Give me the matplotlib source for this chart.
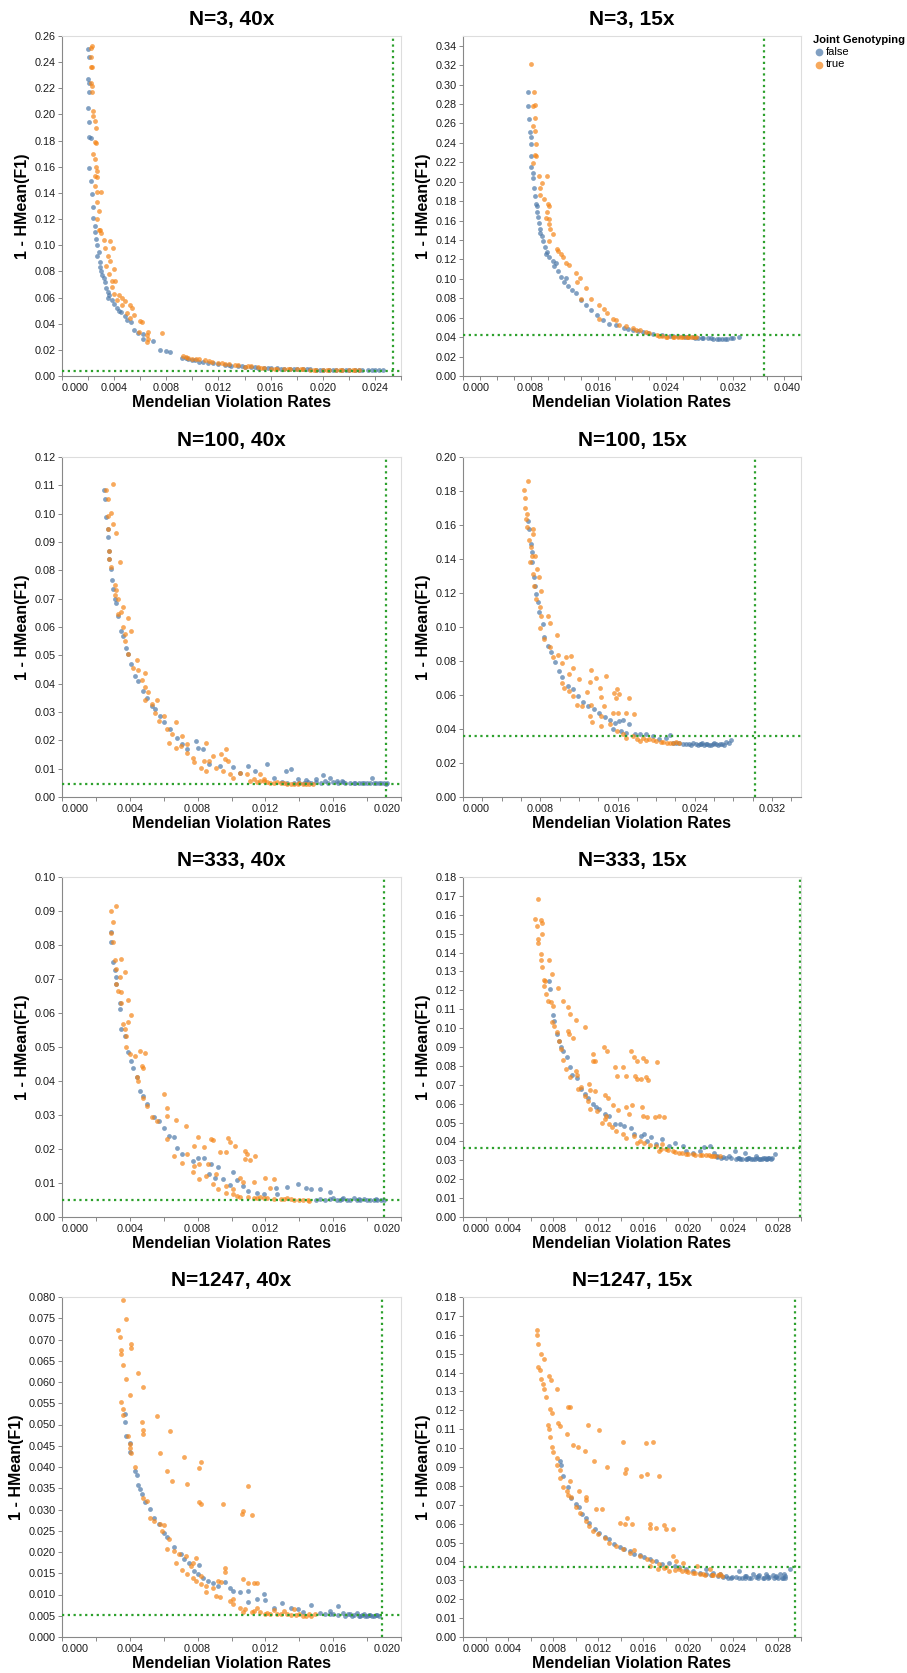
import numpy as np
import matplotlib
matplotlib.use("Agg")
import matplotlib.pyplot as plt

plt.rcParams['font.family'] = ['Liberation Sans', 'DejaVu Sans']

BLUE = '#4c78a8'
ORANGE = '#f58518'

# ---- panel settings ----
titles = ["N=3, 40x", "N=3, 15x", "N=100, 40x", "N=100, 15x",
          "N=333, 40x", "N=333, 15x", "N=1247, 40x", "N=1247, 15x"]
x_max = [0.026, 0.040, 0.020, 0.035, 0.020, 0.030, 0.020, 0.030]
x_label_step = [0.004, 0.008, 0.004, 0.008, 0.004, 0.004, 0.004, 0.004]
y_max = [0.26, 0.35, 0.12, 0.20, 0.10, 0.18, 0.080, 0.18]
y_step = [0.02, 0.02, 0.01, 0.02, 0.01, 0.01, 0.005, 0.01]
y_fmt = ['{:.2f}'] * 6 + ['{:.3f}', '{:.2f}']
vline_x = [0.0254, 0.0356, 0.0191, 0.0302, 0.0190, 0.0299, 0.0189, 0.0295]
hline_y = [0.0038, 0.0423, 0.0047, 0.0358, 0.0049, 0.0364, 0.0051, 0.0371]

# ---- data: (Mendelian violation rate, 1 - HMean(F1)) ----
n3_40x_false = [
    (0.0020, 0.250), (0.0021, 0.244), (0.0020, 0.227), (0.0021, 0.224), (0.0021, 0.217),
    (0.0020, 0.205), (0.0021, 0.194), (0.0021, 0.183), (0.0022, 0.182), (0.0021, 0.159),
    (0.0022, 0.149), (0.0023, 0.139), (0.0024, 0.129), (0.0024, 0.121), (0.0025, 0.115),
    (0.0025, 0.110), (0.0026, 0.105), (0.0027, 0.100), (0.0028, 0.095), (0.0027, 0.092),
    (0.0029, 0.087), (0.0029, 0.083), (0.0030, 0.080), (0.0031, 0.077), (0.0032, 0.075),
    (0.0033, 0.072), (0.0034, 0.067), (0.0035, 0.064), (0.0036, 0.062), (0.0035, 0.060),
    (0.0038, 0.058), (0.0040, 0.055), (0.0042, 0.052), (0.0044, 0.050), (0.0045, 0.049),
    (0.0048, 0.046), (0.0050, 0.043), (0.0053, 0.041), (0.0055, 0.035), (0.0058, 0.033),
    (0.0062, 0.032), (0.0062, 0.028), (0.0070, 0.027), (0.0075, 0.020), (0.0080, 0.019),
    (0.0083, 0.018), (0.0092, 0.014), (0.0097, 0.013), (0.0102, 0.012), (0.0105, 0.011),
    (0.0112, 0.010), (0.0120, 0.009), (0.0125, 0.0085), (0.0130, 0.008), (0.0135, 0.0076),
    (0.0140, 0.0072), (0.0145, 0.0068), (0.0150, 0.0065), (0.0155, 0.0062), (0.0160, 0.0060),
    (0.0165, 0.0058), (0.0170, 0.0056), (0.0175, 0.0054), (0.0180, 0.0052), (0.0185, 0.0051),
    (0.0190, 0.0050), (0.0195, 0.0049), (0.0200, 0.0048), (0.0205, 0.0048), (0.0210, 0.0047),
    (0.0215, 0.0047), (0.0220, 0.0046), (0.0225, 0.0046), (0.0230, 0.0046), (0.0235, 0.0046),
    (0.0240, 0.0046), (0.0246, 0.0046), (0.0095, 0.0135), (0.0100, 0.0125), (0.0108, 0.0108),
    (0.0116, 0.0098), (0.0128, 0.0082), (0.0138, 0.0074), (0.0148, 0.0066), (0.0158, 0.0061),
    (0.0168, 0.0057), (0.0178, 0.0053), (0.0188, 0.0050), (0.0198, 0.0049), (0.0208, 0.0047),
    (0.0218, 0.0046), (0.0228, 0.0046), (0.0238, 0.0046), (0.0243, 0.0045)]
n3_40x_true = [
    (0.0022, 0.251), (0.0023, 0.252), (0.0022, 0.244), (0.0022, 0.236), (0.0023, 0.236),
    (0.0022, 0.224), (0.0023, 0.222), (0.0023, 0.217), (0.0024, 0.203), (0.0024, 0.199),
    (0.0025, 0.195), (0.0026, 0.190), (0.0025, 0.179), (0.0026, 0.178), (0.0024, 0.170),
    (0.0025, 0.166), (0.0026, 0.160), (0.0027, 0.157), (0.0025, 0.153), (0.0027, 0.152),
    (0.0025, 0.145), (0.0027, 0.141), (0.0030, 0.141), (0.0027, 0.133), (0.0028, 0.126),
    (0.0027, 0.120), (0.0028, 0.112), (0.0029, 0.112), (0.0030, 0.109), (0.0032, 0.104),
    (0.0037, 0.103), (0.0033, 0.098), (0.0039, 0.098), (0.0035, 0.092), (0.0037, 0.088),
    (0.0034, 0.084), (0.0040, 0.082), (0.0036, 0.078), (0.0038, 0.073), (0.0041, 0.073),
    (0.0038, 0.068), (0.0040, 0.063), (0.0044, 0.062), (0.0046, 0.060), (0.0042, 0.058),
    (0.0048, 0.057), (0.0046, 0.054), (0.0052, 0.054), (0.0054, 0.052), (0.0050, 0.048),
    (0.0055, 0.047), (0.0052, 0.044), (0.0060, 0.042), (0.0061, 0.041), (0.0059, 0.034),
    (0.0066, 0.034), (0.0065, 0.031), (0.0077, 0.033), (0.0066, 0.028), (0.0065, 0.026),
    (0.0093, 0.015), (0.0097, 0.014), (0.0100, 0.013), (0.0105, 0.013), (0.0110, 0.012),
    (0.0115, 0.011), (0.0120, 0.010), (0.0125, 0.009), (0.0128, 0.0095), (0.0135, 0.0085),
    (0.0140, 0.0070), (0.0145, 0.0078), (0.0150, 0.0068), (0.0155, 0.0060), (0.0160, 0.0057),
    (0.0165, 0.0055), (0.0170, 0.0053), (0.0175, 0.0052), (0.0180, 0.0050), (0.0185, 0.0050),
    (0.0190, 0.0048), (0.0195, 0.0048), (0.0200, 0.0047), (0.0205, 0.0046), (0.0210, 0.0046),
    (0.0215, 0.0045), (0.0220, 0.0045), (0.0225, 0.0045), (0.0228, 0.0045), (0.0095, 0.0142),
    (0.0103, 0.0128), (0.0113, 0.0112), (0.0123, 0.0096), (0.0133, 0.0087), (0.0143, 0.0074),
    (0.0153, 0.0063), (0.0163, 0.0056), (0.0173, 0.0052), (0.0183, 0.0050), (0.0193, 0.0048),
    (0.0203, 0.0046), (0.0213, 0.0045), (0.0223, 0.0045)]

n3_15x_false = [
    (0.0077, 0.292), (0.0077, 0.278), (0.0078, 0.265), (0.0079, 0.251), (0.0081, 0.246),
    (0.0080, 0.239), (0.0081, 0.226), (0.0081, 0.215), (0.0083, 0.209), (0.0083, 0.204),
    (0.0084, 0.194), (0.0085, 0.185), (0.0086, 0.177), (0.0088, 0.175), (0.0087, 0.169),
    (0.0089, 0.164), (0.0090, 0.158), (0.0091, 0.151), (0.0091, 0.147), (0.0093, 0.144),
    (0.0095, 0.139), (0.0097, 0.133), (0.0098, 0.126), (0.0099, 0.128), (0.0102, 0.123),
    (0.0106, 0.118), (0.0110, 0.116), (0.0108, 0.113), (0.0112, 0.108), (0.0116, 0.102),
    (0.0122, 0.101), (0.0120, 0.097), (0.0124, 0.093), (0.0129, 0.089), (0.0134, 0.085),
    (0.0140, 0.078), (0.0146, 0.073), (0.0152, 0.068), (0.0158, 0.063), (0.0166, 0.058),
    (0.0173, 0.054), (0.0181, 0.052), (0.0191, 0.049), (0.0201, 0.047), (0.0213, 0.045),
    (0.0225, 0.043), (0.0236, 0.042), (0.0248, 0.041), (0.0260, 0.041), (0.0272, 0.040),
    (0.0284, 0.039), (0.0296, 0.0385), (0.0307, 0.038), (0.0317, 0.039), (0.0327, 0.040),
    (0.0290, 0.039), (0.0300, 0.0385), (0.0312, 0.0385), (0.0278, 0.0395), (0.0266, 0.0405),
    (0.0245, 0.0412), (0.0255, 0.0408), (0.0263, 0.0402), (0.0275, 0.0396), (0.0283, 0.0392),
    (0.0293, 0.0388), (0.0303, 0.0384), (0.0310, 0.0383), (0.0320, 0.0387), (0.0219, 0.0440),
    (0.0207, 0.0460), (0.0195, 0.0480)]
n3_15x_true = [
    (0.0080, 0.321), (0.0084, 0.292), (0.0083, 0.278), (0.0085, 0.279), (0.0085, 0.266),
    (0.0083, 0.257), (0.0085, 0.252), (0.0086, 0.239), (0.0085, 0.228), (0.0086, 0.226),
    (0.0083, 0.219), (0.0090, 0.206), (0.0099, 0.206), (0.0093, 0.199), (0.0091, 0.194),
    (0.0091, 0.186), (0.0096, 0.182), (0.0100, 0.177), (0.0102, 0.175), (0.0099, 0.169),
    (0.0098, 0.163), (0.0102, 0.162), (0.0102, 0.156), (0.0103, 0.151), (0.0106, 0.146),
    (0.0102, 0.139), (0.0111, 0.131), (0.0113, 0.129), (0.0116, 0.126), (0.0118, 0.123),
    (0.0122, 0.116), (0.0126, 0.114), (0.0134, 0.106), (0.0138, 0.101), (0.0135, 0.097),
    (0.0146, 0.091), (0.0140, 0.079), (0.0152, 0.079), (0.0161, 0.073), (0.0167, 0.069),
    (0.0171, 0.065), (0.0161, 0.059), (0.0177, 0.059), (0.0181, 0.058), (0.0185, 0.053),
    (0.0193, 0.051), (0.0201, 0.049), (0.0209, 0.047), (0.0217, 0.045), (0.0229, 0.042),
    (0.0236, 0.041), (0.0248, 0.040), (0.0260, 0.040), (0.0270, 0.040), (0.0276, 0.040),
    (0.0242, 0.0405), (0.0254, 0.0400), (0.0265, 0.0398), (0.0232, 0.0412), (0.0240, 0.0405),
    (0.0250, 0.0402), (0.0258, 0.0400), (0.0266, 0.0401), (0.0273, 0.0399), (0.0220, 0.0440),
    (0.0205, 0.0470)]

n100_40x_false = [
    (0.0025, 0.1085), (0.00255, 0.1053), (0.0026, 0.0990), (0.0027, 0.0947), (0.0027, 0.0917),
    (0.0028, 0.0870), (0.0028, 0.0841), (0.0029, 0.0805), (0.00295, 0.0767), (0.0030, 0.0734),
    (0.0031, 0.0699), (0.0032, 0.0684), (0.0033, 0.0640), (0.0035, 0.0587), (0.0036, 0.0569),
    (0.0038, 0.0526), (0.0039, 0.0505), (0.0041, 0.0469), (0.0043, 0.0428), (0.0045, 0.0410),
    (0.0048, 0.0375), (0.0050, 0.0351), (0.0053, 0.0322), (0.0055, 0.0310), (0.0058, 0.0286),
    (0.0060, 0.0263), (0.0064, 0.0240), (0.0068, 0.0210), (0.0071, 0.0186), (0.0074, 0.0169),
    (0.0079, 0.0198), (0.0080, 0.0174), (0.0083, 0.0169), (0.0087, 0.0116), (0.0093, 0.0110),
    (0.0101, 0.0106), (0.0105, 0.0086), (0.0110, 0.0110), (0.0114, 0.0092), (0.0121, 0.0116),
    (0.0125, 0.0068), (0.0132, 0.0092), (0.0135, 0.0098), (0.0139, 0.0062), (0.0144, 0.0059),
    (0.0150, 0.0062), (0.0154, 0.0078), (0.0158, 0.0068), (0.0162, 0.0057), (0.0166, 0.0054),
    (0.0172, 0.0051), (0.0178, 0.0050), (0.0183, 0.0066), (0.0184, 0.0050), (0.0190, 0.0048),
    (0.0192, 0.0048), (0.0130, 0.0052), (0.0140, 0.0051), (0.0150, 0.0052), (0.0160, 0.0052),
    (0.0170, 0.0050), (0.0175, 0.0049), (0.0180, 0.0049), (0.0185, 0.0048), (0.0188, 0.0048),
    (0.0133, 0.0050), (0.0137, 0.0049), (0.0143, 0.0050), (0.0147, 0.0049), (0.0153, 0.0050),
    (0.0157, 0.0049), (0.0163, 0.0050), (0.0167, 0.0049), (0.0173, 0.0049), (0.0177, 0.0048),
    (0.0182, 0.0048), (0.0187, 0.0048), (0.0191, 0.0047), (0.0155, 0.0055), (0.0165, 0.0055),
    (0.0145, 0.0054)]
n100_40x_true = [
    (0.0030, 0.1103), (0.0026, 0.1085), (0.0027, 0.1053), (0.0029, 0.1003), (0.0027, 0.0991),
    (0.0030, 0.0962), (0.0032, 0.0931), (0.0027, 0.0947), (0.0028, 0.0870), (0.0028, 0.0841),
    (0.0034, 0.0829), (0.0029, 0.0811), (0.0031, 0.0750), (0.0032, 0.0731), (0.0031, 0.0714),
    (0.0033, 0.0699), (0.0036, 0.0670), (0.0035, 0.0652), (0.0033, 0.0646), (0.0039, 0.0632),
    (0.0036, 0.0599), (0.0041, 0.0587), (0.0037, 0.0575), (0.0037, 0.0552), (0.0039, 0.0505),
    (0.0044, 0.0483), (0.0042, 0.0457), (0.0045, 0.0448), (0.0049, 0.0436), (0.0047, 0.0413),
    (0.0049, 0.0387), (0.0051, 0.0369), (0.0049, 0.0342), (0.0056, 0.0342), (0.0053, 0.0328),
    (0.0055, 0.0298), (0.0060, 0.0286), (0.0057, 0.0269), (0.0067, 0.0263), (0.0062, 0.0239),
    (0.0065, 0.0222), (0.0071, 0.0216), (0.0063, 0.0192), (0.0070, 0.0180), (0.0074, 0.0186),
    (0.0085, 0.0189), (0.0067, 0.0174), (0.0074, 0.0157), (0.0077, 0.0139), (0.0078, 0.0125),
    (0.0084, 0.0127), (0.0082, 0.0104), (0.0089, 0.0145), (0.0087, 0.0127), (0.0085, 0.0092),
    (0.0091, 0.0104), (0.0094, 0.0151), (0.0097, 0.0169), (0.0096, 0.0133), (0.0095, 0.0092),
    (0.0098, 0.0127), (0.0099, 0.0080), (0.0101, 0.0068), (0.0105, 0.0086), (0.0109, 0.0080),
    (0.0113, 0.0062), (0.0117, 0.0080), (0.0119, 0.0057), (0.0123, 0.0051), (0.0127, 0.0053),
    (0.0131, 0.0048), (0.0137, 0.0047), (0.0140, 0.0048), (0.0144, 0.0045), (0.0148, 0.0047),
    (0.0111, 0.0057), (0.0115, 0.0054), (0.0121, 0.0052), (0.0125, 0.0050), (0.0129, 0.0049),
    (0.0133, 0.0047), (0.0135, 0.0046), (0.0139, 0.0046), (0.0142, 0.0046), (0.0146, 0.0046),
    (0.0119, 0.0062), (0.0117, 0.0055)]

n100_15x_false = [
    (0.0067, 0.1623), (0.0068, 0.1578), (0.0070, 0.1489), (0.0071, 0.1440), (0.0071, 0.1381),
    (0.0074, 0.1293), (0.0075, 0.1244), (0.0076, 0.1194), (0.0078, 0.1145), (0.0079, 0.1086),
    (0.0083, 0.1018), (0.0084, 0.0939), (0.0088, 0.0890), (0.0091, 0.0851), (0.0095, 0.0792),
    (0.0099, 0.0743), (0.0103, 0.0703), (0.0109, 0.0654), (0.0114, 0.0635), (0.0119, 0.0595),
    (0.0124, 0.0556), (0.0129, 0.0536), (0.0136, 0.0517), (0.0141, 0.0497), (0.0147, 0.0468),
    (0.0152, 0.0452), (0.0157, 0.0438), (0.0162, 0.0448), (0.0166, 0.0452), (0.0172, 0.0432),
    (0.0155, 0.0399), (0.0164, 0.0389), (0.0169, 0.0379), (0.0178, 0.0373), (0.0183, 0.0369),
    (0.0190, 0.0369), (0.0197, 0.0360), (0.0203, 0.0340), (0.0210, 0.0350), (0.0214, 0.0365),
    (0.0217, 0.0320), (0.0224, 0.0316), (0.0231, 0.0314), (0.0238, 0.0320), (0.0245, 0.0314),
    (0.0252, 0.0310), (0.0259, 0.0314), (0.0266, 0.0314), (0.0272, 0.0322), (0.0278, 0.0334),
    (0.0234, 0.0310), (0.0248, 0.0320), (0.0255, 0.0306), (0.0262, 0.0310), (0.0221, 0.0318),
    (0.0228, 0.0312), (0.0236, 0.0308), (0.0241, 0.0310), (0.0243, 0.0306), (0.0250, 0.0308),
    (0.0257, 0.0307), (0.0264, 0.0307), (0.0268, 0.0310), (0.0270, 0.0306), (0.0246, 0.0312),
    (0.0253, 0.0313), (0.0260, 0.0317), (0.0275, 0.0318)]
n100_15x_true = [
    (0.0067, 0.1859), (0.0063, 0.1807), (0.0064, 0.1760), (0.0064, 0.1701), (0.0066, 0.1666),
    (0.0065, 0.1637), (0.0066, 0.1587), (0.0072, 0.1578), (0.0072, 0.1548), (0.0068, 0.1509),
    (0.0070, 0.1470), (0.0071, 0.1415), (0.0075, 0.1415), (0.0069, 0.1381), (0.0077, 0.1342),
    (0.0072, 0.1312), (0.0079, 0.1293), (0.0074, 0.1244), (0.0081, 0.1214), (0.0076, 0.1165),
    (0.0080, 0.1116), (0.0081, 0.1067), (0.0088, 0.1067), (0.0090, 0.1022), (0.0080, 0.0994),
    (0.0097, 0.0955), (0.0084, 0.0929), (0.0090, 0.0880), (0.0098, 0.0837), (0.0112, 0.0831),
    (0.0107, 0.0825), (0.0103, 0.0786), (0.0093, 0.0821), (0.0114, 0.0756), (0.0110, 0.0723),
    (0.0133, 0.0747), (0.0120, 0.0693), (0.0138, 0.0699), (0.0148, 0.0713), (0.0131, 0.0674),
    (0.0102, 0.0668), (0.0105, 0.0644), (0.0110, 0.0625), (0.0142, 0.0644), (0.0159, 0.0635),
    (0.0128, 0.0615), (0.0156, 0.0609), (0.0162, 0.0605), (0.0114, 0.0595), (0.0143, 0.0589),
    (0.0172, 0.0580), (0.0158, 0.0582), (0.0118, 0.0542), (0.0133, 0.0542), (0.0146, 0.0536),
    (0.0123, 0.0536), (0.0169, 0.0497), (0.0177, 0.0487), (0.0155, 0.0497), (0.0160, 0.0497),
    (0.0131, 0.0477), (0.0143, 0.0477), (0.0134, 0.0444), (0.0152, 0.0432), (0.0143, 0.0418),
    (0.0159, 0.0389), (0.0166, 0.0369), (0.0176, 0.0360), (0.0186, 0.0346), (0.0197, 0.0334),
    (0.0207, 0.0326), (0.0214, 0.0320), (0.0221, 0.0326), (0.0169, 0.0346), (0.0183, 0.0330),
    (0.0193, 0.0340), (0.0200, 0.0330), (0.0205, 0.0322), (0.0211, 0.0320), (0.0217, 0.0318),
    (0.0224, 0.0320), (0.0190, 0.0333), (0.0180, 0.0340)]

n333_40x_false = [
    (0.0029, 0.0838), (0.0029, 0.0808), (0.0030, 0.0750), (0.0031, 0.0727), (0.0032, 0.0705),
    (0.0032, 0.0684), (0.0034, 0.0629), (0.0034, 0.0612), (0.0035, 0.0553), (0.0037, 0.0533),
    (0.0039, 0.0484), (0.0041, 0.0460), (0.0042, 0.0438), (0.0044, 0.0411), (0.0046, 0.0371),
    (0.0048, 0.0357), (0.0050, 0.0332), (0.0054, 0.0295), (0.0057, 0.0283), (0.0060, 0.0263),
    (0.0063, 0.0239), (0.0066, 0.0236), (0.0068, 0.0204), (0.0071, 0.0185), (0.0077, 0.0165),
    (0.0080, 0.0173), (0.0084, 0.0175), (0.0088, 0.0155), (0.0092, 0.0147), (0.0087, 0.0126),
    (0.0090, 0.0116), (0.0095, 0.0111), (0.0099, 0.0094), (0.0101, 0.0131), (0.0103, 0.0108),
    (0.0107, 0.0091), (0.0110, 0.0077), (0.0115, 0.0072), (0.0119, 0.0069), (0.0126, 0.0086),
    (0.0127, 0.0067), (0.0133, 0.0088), (0.0139, 0.0096), (0.0144, 0.0086), (0.0147, 0.0082),
    (0.0152, 0.0082), (0.0158, 0.0075), (0.0160, 0.0057), (0.0166, 0.0055), (0.0172, 0.0057),
    (0.0178, 0.0052), (0.0182, 0.0051), (0.0188, 0.0050), (0.0164, 0.0049), (0.0170, 0.0049),
    (0.0176, 0.0049), (0.0184, 0.0049), (0.0152, 0.0052), (0.0158, 0.0052), (0.0150, 0.0050),
    (0.0155, 0.0050), (0.0162, 0.0050), (0.0168, 0.0050), (0.0174, 0.0050), (0.0180, 0.0049),
    (0.0186, 0.0049), (0.0190, 0.0049), (0.0175, 0.0054), (0.0185, 0.0053), (0.0165, 0.0053)]
n333_40x_true = [
    (0.0032, 0.0914), (0.0029, 0.0900), (0.0030, 0.0867), (0.0029, 0.0835), (0.0030, 0.0808),
    (0.0031, 0.0756), (0.0035, 0.0759), (0.0032, 0.0730), (0.0037, 0.0720), (0.0032, 0.0686),
    (0.0034, 0.0707), (0.0033, 0.0666), (0.0035, 0.0661), (0.0039, 0.0638), (0.0035, 0.0629),
    (0.0041, 0.0594), (0.0036, 0.0568), (0.0039, 0.0573), (0.0037, 0.0553), (0.0038, 0.0533),
    (0.0038, 0.0501), (0.0040, 0.0479), (0.0046, 0.0487), (0.0049, 0.0481), (0.0043, 0.0474),
    (0.0047, 0.0445), (0.0048, 0.0438), (0.0044, 0.0411), (0.0045, 0.0401), (0.0060, 0.0363),
    (0.0048, 0.0350), (0.0050, 0.0327), (0.0062, 0.0320), (0.0062, 0.0298), (0.0053, 0.0295),
    (0.0067, 0.0285), (0.0056, 0.0283), (0.0073, 0.0268), (0.0062, 0.0229), (0.0080, 0.0234),
    (0.0088, 0.0229), (0.0089, 0.0226), (0.0098, 0.0232), (0.0099, 0.0222), (0.0102, 0.0209),
    (0.0078, 0.0209), (0.0084, 0.0207), (0.0097, 0.0190), (0.0093, 0.0190), (0.0108, 0.0195),
    (0.0109, 0.0185), (0.0114, 0.0180), (0.0108, 0.0170), (0.0111, 0.0167), (0.0066, 0.0180),
    (0.0071, 0.0160), (0.0074, 0.0185), (0.0078, 0.0150), (0.0081, 0.0155), (0.0086, 0.0155),
    (0.0077, 0.0131), (0.0081, 0.0111), (0.0085, 0.0121), (0.0091, 0.0126), (0.0089, 0.0096),
    (0.0092, 0.0082), (0.0097, 0.0091), (0.0105, 0.0116), (0.0107, 0.0104), (0.0113, 0.0104),
    (0.0120, 0.0114), (0.0125, 0.0111), (0.0123, 0.0086), (0.0101, 0.0067), (0.0105, 0.0059),
    (0.0113, 0.0057), (0.0121, 0.0055), (0.0129, 0.0054), (0.0135, 0.0052), (0.0140, 0.0050),
    (0.0145, 0.0049), (0.0117, 0.0059), (0.0133, 0.0057), (0.0101, 0.0082), (0.0097, 0.0072),
    (0.0110, 0.0058), (0.0115, 0.0056), (0.0119, 0.0055), (0.0125, 0.0054), (0.0131, 0.0052),
    (0.0137, 0.0050), (0.0142, 0.0049), (0.0146, 0.0048), (0.0103, 0.0062)]

n333_15x_false = [
    (0.0076, 0.1248), (0.0077, 0.1208), (0.0080, 0.1071), (0.0081, 0.1036), (0.0083, 0.0969),
    (0.0085, 0.0934), (0.0087, 0.0898), (0.0089, 0.0880), (0.0092, 0.0845), (0.0095, 0.0796),
    (0.0097, 0.0753), (0.0101, 0.0735), (0.0105, 0.0677), (0.0108, 0.0651), (0.0111, 0.0629),
    (0.0115, 0.0598), (0.0118, 0.0583), (0.0121, 0.0571), (0.0126, 0.0545), (0.0130, 0.0536),
    (0.0135, 0.0495), (0.0139, 0.0492), (0.0143, 0.0483), (0.0149, 0.0470), (0.0152, 0.0438),
    (0.0158, 0.0430), (0.0161, 0.0442), (0.0163, 0.0403), (0.0167, 0.0424), (0.0171, 0.0385),
    (0.0177, 0.0412), (0.0183, 0.0377), (0.0188, 0.0394), (0.0195, 0.0377), (0.0198, 0.0350),
    (0.0204, 0.0341), (0.0210, 0.0350), (0.0214, 0.0371), (0.0219, 0.0377), (0.0225, 0.0324),
    (0.0231, 0.0318), (0.0236, 0.0324), (0.0241, 0.0350), (0.0245, 0.0315), (0.0250, 0.0341),
    (0.0254, 0.0315), (0.0260, 0.0324), (0.0266, 0.0311), (0.0272, 0.0315), (0.0277, 0.0332),
    (0.0233, 0.0311), (0.0242, 0.0309), (0.0251, 0.0308), (0.0257, 0.0309), (0.0263, 0.0308),
    (0.0269, 0.0309), (0.0273, 0.0306), (0.0223, 0.0341), (0.0238, 0.0312), (0.0244, 0.0310),
    (0.0248, 0.0308), (0.0253, 0.0310), (0.0256, 0.0306), (0.0261, 0.0310), (0.0265, 0.0306),
    (0.0268, 0.0312), (0.0271, 0.0310), (0.0274, 0.0310), (0.0246, 0.0305), (0.0252, 0.0305),
    (0.0259, 0.0305), (0.0264, 0.0305), (0.0270, 0.0305), (0.0229, 0.0315), (0.0225, 0.0320)]
n333_15x_true = [
    (0.0067, 0.1685), (0.0064, 0.1579), (0.0066, 0.1538), (0.0069, 0.1574), (0.0070, 0.1556),
    (0.0070, 0.1496), (0.0067, 0.1473), (0.0067, 0.1450), (0.0069, 0.1390), (0.0069, 0.1358),
    (0.0076, 0.1358), (0.0070, 0.1322), (0.0079, 0.1287), (0.0072, 0.1255), (0.0073, 0.1252),
    (0.0072, 0.1225), (0.0084, 0.1213), (0.0074, 0.1181), (0.0075, 0.1146), (0.0078, 0.1137),
    (0.0080, 0.1119), (0.0089, 0.1146), (0.0093, 0.1114), (0.0095, 0.1075), (0.0100, 0.1043),
    (0.0108, 0.1004), (0.0079, 0.1031), (0.0081, 0.1013), (0.0083, 0.0978), (0.0093, 0.0987),
    (0.0094, 0.0969), (0.0098, 0.0948), (0.0085, 0.0934), (0.0087, 0.0889), (0.0125, 0.0898),
    (0.0128, 0.0877), (0.0149, 0.0880), (0.0115, 0.0863), (0.0152, 0.0845), (0.0160, 0.0842),
    (0.0089, 0.0831), (0.0115, 0.0827), (0.0117, 0.0827), (0.0154, 0.0824), (0.0162, 0.0824),
    (0.0172, 0.0819), (0.0091, 0.0783), (0.0135, 0.0796), (0.0142, 0.0792), (0.0100, 0.0771),
    (0.0101, 0.0753), (0.0095, 0.0743), (0.0137, 0.0748), (0.0145, 0.0748), (0.0153, 0.0748),
    (0.0154, 0.0730), (0.0158, 0.0730), (0.0162, 0.0739), (0.0164, 0.0727), (0.0102, 0.0677),
    (0.0105, 0.0686), (0.0112, 0.0704), (0.0113, 0.0672), (0.0117, 0.0668), (0.0126, 0.0647),
    (0.0129, 0.0629), (0.0108, 0.0642), (0.0111, 0.0612), (0.0133, 0.0594), (0.0145, 0.0583),
    (0.0150, 0.0594), (0.0159, 0.0580), (0.0113, 0.0571), (0.0138, 0.0566), (0.0119, 0.0559),
    (0.0147, 0.0545), (0.0160, 0.0536), (0.0163, 0.0530), (0.0170, 0.0530), (0.0174, 0.0536),
    (0.0178, 0.0530), (0.0127, 0.0536), (0.0126, 0.0518), (0.0123, 0.0500), (0.0130, 0.0492),
    (0.0132, 0.0474), (0.0136, 0.0456), (0.0142, 0.0438), (0.0145, 0.0417), (0.0152, 0.0430),
    (0.0157, 0.0403), (0.0161, 0.0394), (0.0166, 0.0382), (0.0171, 0.0377), (0.0177, 0.0385),
    (0.0180, 0.0359), (0.0186, 0.0350), (0.0192, 0.0341), (0.0198, 0.0336), (0.0204, 0.0332),
    (0.0210, 0.0329), (0.0216, 0.0327), (0.0222, 0.0325), (0.0228, 0.0324), (0.0154, 0.0394),
    (0.0174, 0.0350), (0.0212, 0.0328), (0.0218, 0.0326), (0.0224, 0.0324), (0.0220, 0.0322),
    (0.0206, 0.0330), (0.0200, 0.0335), (0.0194, 0.0338), (0.0188, 0.0345), (0.0182, 0.0355),
    (0.0176, 0.0362)]

n1247_40x_false = [
    (0.0037, 0.0525), (0.0037, 0.0505), (0.0038, 0.0472), (0.0040, 0.0456), (0.0040, 0.0435),
    (0.0043, 0.0391), (0.0044, 0.0382), (0.0045, 0.0358), (0.0046, 0.0348), (0.0047, 0.0336),
    (0.0049, 0.0317), (0.0052, 0.0301), (0.0054, 0.0280), (0.0057, 0.0266), (0.0060, 0.0244),
    (0.0062, 0.0236), (0.0066, 0.0212), (0.0070, 0.0195), (0.0072, 0.0183), (0.0075, 0.0173),
    (0.0078, 0.0156), (0.0080, 0.0149), (0.0081, 0.0170), (0.0083, 0.0140), (0.0086, 0.0132),
    (0.0089, 0.0126), (0.0092, 0.0120), (0.0096, 0.0130), (0.0099, 0.0116), (0.0101, 0.0108),
    (0.0105, 0.0107), (0.0110, 0.0108), (0.0110, 0.0083), (0.0115, 0.0089), (0.0119, 0.0101),
    (0.0120, 0.0086), (0.0125, 0.0069), (0.0130, 0.0079), (0.0135, 0.0069), (0.0139, 0.0065),
    (0.0142, 0.0060), (0.0147, 0.0075), (0.0152, 0.0057), (0.0158, 0.0061), (0.0163, 0.0073),
    (0.0166, 0.0057), (0.0170, 0.0053), (0.0174, 0.0057), (0.0178, 0.0053), (0.0182, 0.0052),
    (0.0186, 0.0052), (0.0160, 0.0053), (0.0172, 0.0051), (0.0176, 0.0050), (0.0180, 0.0050),
    (0.0184, 0.0050), (0.0187, 0.0050), (0.0163, 0.0051), (0.0167, 0.0050), (0.0171, 0.0050),
    (0.0175, 0.0049), (0.0179, 0.0049), (0.0183, 0.0049), (0.0185, 0.0051), (0.0181, 0.0051),
    (0.0177, 0.0052), (0.0169, 0.0055), (0.0158, 0.0053), (0.0155, 0.0055)]
n1247_40x_true = [
    (0.0036, 0.0794), (0.0038, 0.0749), (0.0033, 0.0723), (0.0034, 0.0706), (0.0041, 0.0689),
    (0.0041, 0.0681), (0.0035, 0.0676), (0.0035, 0.0665), (0.0036, 0.0641), (0.0038, 0.0607),
    (0.0045, 0.0621), (0.0048, 0.0588), (0.0040, 0.0569), (0.0035, 0.0552), (0.0036, 0.0537),
    (0.0036, 0.0523), (0.0056, 0.0519), (0.0047, 0.0505), (0.0048, 0.0488), (0.0064, 0.0484),
    (0.0048, 0.0478), (0.0039, 0.0472), (0.0040, 0.0454), (0.0040, 0.0445), (0.0058, 0.0434),
    (0.0041, 0.0432), (0.0072, 0.0423), (0.0082, 0.0412), (0.0081, 0.0397), (0.0062, 0.0391),
    (0.0043, 0.0399), (0.0065, 0.0368), (0.0074, 0.0361), (0.0110, 0.0355), (0.0081, 0.0317),
    (0.0082, 0.0314), (0.0095, 0.0313), (0.0107, 0.0297), (0.0106, 0.0289), (0.0112, 0.0288),
    (0.0048, 0.0328), (0.0050, 0.0321), (0.0052, 0.0281), (0.0054, 0.0272), (0.0058, 0.0266),
    (0.0060, 0.0264), (0.0059, 0.0250), (0.0063, 0.0230), (0.0062, 0.0207), (0.0066, 0.0203),
    (0.0069, 0.0195), (0.0073, 0.0191), (0.0079, 0.0185), (0.0077, 0.0175), (0.0067, 0.0173),
    (0.0076, 0.0167), (0.0071, 0.0157), (0.0074, 0.0148), (0.0077, 0.0140), (0.0082, 0.0144),
    (0.0079, 0.0132), (0.0082, 0.0124), (0.0085, 0.0120), (0.0089, 0.0116), (0.0092, 0.0132),
    (0.0096, 0.0163), (0.0096, 0.0152), (0.0094, 0.0130), (0.0107, 0.0136), (0.0110, 0.0126),
    (0.0113, 0.0126), (0.0115, 0.0126), (0.0085, 0.0105), (0.0091, 0.0097), (0.0093, 0.0093),
    (0.0099, 0.0085), (0.0101, 0.0077), (0.0105, 0.0069), (0.0108, 0.0065), (0.0113, 0.0061),
    (0.0117, 0.0060), (0.0121, 0.0057), (0.0127, 0.0055), (0.0133, 0.0055), (0.0137, 0.0065),
    (0.0140, 0.0055), (0.0146, 0.0053), (0.0149, 0.0053), (0.0101, 0.0089), (0.0115, 0.0069),
    (0.0125, 0.0063), (0.0131, 0.0061), (0.0120, 0.0055), (0.0123, 0.0054), (0.0129, 0.0053),
    (0.0135, 0.0052), (0.0138, 0.0051), (0.0142, 0.0050), (0.0144, 0.0049), (0.0147, 0.0050),
    (0.0112, 0.0058), (0.0107, 0.0060)]

n1247_15x_false = [
    (0.0086, 0.0934), (0.0087, 0.0912), (0.0089, 0.0854), (0.0093, 0.0796), (0.0096, 0.0735),
    (0.0100, 0.0704), (0.0103, 0.0686), (0.0106, 0.0651), (0.0109, 0.0629), (0.0112, 0.0601),
    (0.0117, 0.0571), (0.0121, 0.0553), (0.0126, 0.0530), (0.0130, 0.0518), (0.0134, 0.0492),
    (0.0139, 0.0477), (0.0143, 0.0465), (0.0148, 0.0456), (0.0152, 0.0442), (0.0157, 0.0435),
    (0.0161, 0.0424), (0.0166, 0.0412), (0.0171, 0.0403), (0.0177, 0.0389), (0.0183, 0.0394),
    (0.0188, 0.0377), (0.0192, 0.0368), (0.0198, 0.0359), (0.0204, 0.0350), (0.0210, 0.0341),
    (0.0216, 0.0359), (0.0222, 0.0341), (0.0228, 0.0332), (0.0233, 0.0324), (0.0239, 0.0318),
    (0.0245, 0.0350), (0.0251, 0.0324), (0.0257, 0.0332), (0.0263, 0.0327), (0.0269, 0.0332),
    (0.0275, 0.0329), (0.0281, 0.0332), (0.0285, 0.0332), (0.0290, 0.0359), (0.0242, 0.0318),
    (0.0248, 0.0315), (0.0254, 0.0315), (0.0260, 0.0318), (0.0266, 0.0315), (0.0272, 0.0316),
    (0.0278, 0.0318), (0.0284, 0.0315), (0.0235, 0.0311), (0.0216, 0.0332), (0.0245, 0.0312),
    (0.0250, 0.0310), (0.0256, 0.0312), (0.0262, 0.0311), (0.0267, 0.0312), (0.0271, 0.0310),
    (0.0276, 0.0312), (0.0280, 0.0311), (0.0283, 0.0312), (0.0286, 0.0322), (0.0286, 0.0312),
    (0.0250, 0.0322), (0.0262, 0.0322), (0.0270, 0.0322), (0.0278, 0.0322), (0.0238, 0.0312),
    (0.0231, 0.0318), (0.0226, 0.0322), (0.0220, 0.0330)]
n1247_15x_true = [
    (0.0066, 0.1623), (0.0066, 0.1597), (0.0067, 0.1549), (0.0069, 0.1496), (0.0072, 0.1473),
    (0.0067, 0.1432), (0.0068, 0.1411), (0.0076, 0.1384), (0.0078, 0.1361), (0.0069, 0.1367),
    (0.0071, 0.1337), (0.0072, 0.1314), (0.0083, 0.1314), (0.0074, 0.1269), (0.0093, 0.1220),
    (0.0095, 0.1220), (0.0077, 0.1208), (0.0079, 0.1185), (0.0111, 0.1124), (0.0084, 0.1132),
    (0.0086, 0.1119), (0.0075, 0.1124), (0.0076, 0.1101), (0.0121, 0.1096), (0.0092, 0.1075),
    (0.0077, 0.1057), (0.0142, 0.1034), (0.0162, 0.1025), (0.0169, 0.1031), (0.0098, 0.1018),
    (0.0102, 0.1004), (0.0079, 0.1008), (0.0108, 0.0987), (0.0080, 0.0978), (0.0083, 0.0948),
    (0.0116, 0.0934), (0.0083, 0.0912), (0.0128, 0.0902), (0.0086, 0.0884), (0.0145, 0.0889),
    (0.0144, 0.0866), (0.0163, 0.0863), (0.0158, 0.0854), (0.0174, 0.0854), (0.0086, 0.0842),
    (0.0095, 0.0827), (0.0089, 0.0792), (0.0092, 0.0774), (0.0103, 0.0771), (0.0093, 0.0753),
    (0.0096, 0.0743), (0.0109, 0.0743), (0.0109, 0.0725), (0.0100, 0.0686), (0.0118, 0.0677),
    (0.0123, 0.0677), (0.0104, 0.0654), (0.0146, 0.0629), (0.0109, 0.0615), (0.0139, 0.0606),
    (0.0144, 0.0598), (0.0150, 0.0598), (0.0166, 0.0598), (0.0178, 0.0594), (0.0112, 0.0589),
    (0.0166, 0.0576), (0.0171, 0.0576), (0.0180, 0.0571), (0.0186, 0.0571), (0.0115, 0.0562),
    (0.0120, 0.0545), (0.0126, 0.0523), (0.0130, 0.0500), (0.0136, 0.0483), (0.0142, 0.0465),
    (0.0148, 0.0447), (0.0152, 0.0460), (0.0157, 0.0430), (0.0163, 0.0412), (0.0168, 0.0400),
    (0.0174, 0.0385), (0.0180, 0.0371), (0.0186, 0.0430), (0.0189, 0.0403), (0.0195, 0.0394),
    (0.0192, 0.0359), (0.0198, 0.0350), (0.0204, 0.0341), (0.0208, 0.0377), (0.0213, 0.0332),
    (0.0219, 0.0359), (0.0222, 0.0329), (0.0228, 0.0332), (0.0173, 0.0359), (0.0166, 0.0377),
    (0.0183, 0.0350), (0.0210, 0.0335), (0.0215, 0.0330), (0.0221, 0.0328), (0.0226, 0.0326),
    (0.0230, 0.0324), (0.0206, 0.0338), (0.0200, 0.0342), (0.0194, 0.0348), (0.0188, 0.0356),
    (0.0178, 0.0366)]

series_false = [n3_40x_false, n3_15x_false, n100_40x_false, n100_15x_false,
                n333_40x_false, n333_15x_false, n1247_40x_false, n1247_15x_false]
series_true = [n3_40x_true, n3_15x_true, n100_40x_true, n100_15x_true,
               n333_40x_true, n333_15x_true, n1247_40x_true, n1247_15x_true]

# ---- figure ----
W, H = 907, 1673
fig = plt.figure(figsize=(W / 100, H / 100), dpi=100)

col_left = [62, 463]
col_width = [339, 338]
row_top = [36, 457, 877, 1297]
panel_h = 340

handles = None
for i in range(8):
    r, c = divmod(i, 2)
    left = col_left[c] / W
    bottom = 1 - (row_top[r] + panel_h) / H
    ax = fig.add_axes([left, bottom, col_width[c] / W, panel_h / H])

    fx, fy = zip(*series_false[i])
    tx, ty = zip(*series_true[i])
    h1 = ax.scatter(fx, fy, s=12, c=BLUE, alpha=0.7, linewidths=0, zorder=2)
    h2 = ax.scatter(tx, ty, s=12, c=ORANGE, alpha=0.7, linewidths=0, zorder=2)
    if handles is None:
        handles = [h1, h2]

    ax.axvline(vline_x[i], color='#2ca02c', lw=1.6, ls=(0, (1, 1.6)), zorder=3)
    ax.axhline(hline_y[i], color='#2ca02c', lw=1.6, ls=(0, (1, 1.6)), zorder=3)

    ax.set_xlim(0, x_max[i])
    ax.set_ylim(0, y_max[i])

    xt = np.arange(0, x_max[i] + 1e-9, x_label_step[i])
    ax.set_xticks(xt, ['{:.3f}'.format(v) for v in xt])
    ax.set_xticks(np.arange(0, x_max[i] + 1e-9, 0.002), minor=True)
    yt = np.arange(0, y_max[i] + 1e-9, y_step[i])
    ax.set_yticks(yt, [y_fmt[i].format(v) for v in yt])

    ax.tick_params(which='both', length=3.2, width=0.7, color='#888888',
                   labelsize=7.8, pad=1.5, labelcolor='#1a1a1a')

    # flush first / last x label against the axis edge
    xlabels = ax.get_xticklabels()
    xlabels[0].set_ha('left')
    if abs(xt[-1] - x_max[i]) < 1e-9:
        xlabels[-1].set_ha('right')

    for side in ['top', 'right']:
        ax.spines[side].set_color('#dddddd')
        ax.spines[side].set_linewidth(0.8)
    for side in ['left', 'bottom']:
        ax.spines[side].set_color('#888888')
        ax.spines[side].set_linewidth(0.8)

    ax.set_title(titles[i], fontsize=15, fontweight='bold', pad=8)
    ax.set_xlabel('Mendelian Violation Rates', fontsize=11.5, fontweight='bold', labelpad=2)
    ax.set_ylabel('1 - HMean(F1)', fontsize=11.5, fontweight='bold', labelpad=3)

fig.legend(handles, ['false', 'true'], title='Joint Genotyping',
           loc='upper left', bbox_to_anchor=(813 / W, 1 - 35 / H),
           frameon=False, fontsize=8, title_fontproperties={'weight': 'bold', 'size': 8},
           alignment='left', markerscale=1.6, handletextpad=0.15, handlelength=1.0,
           labelspacing=0.2, borderpad=0, borderaxespad=0)

fig.savefig('out.png', dpi=100)
